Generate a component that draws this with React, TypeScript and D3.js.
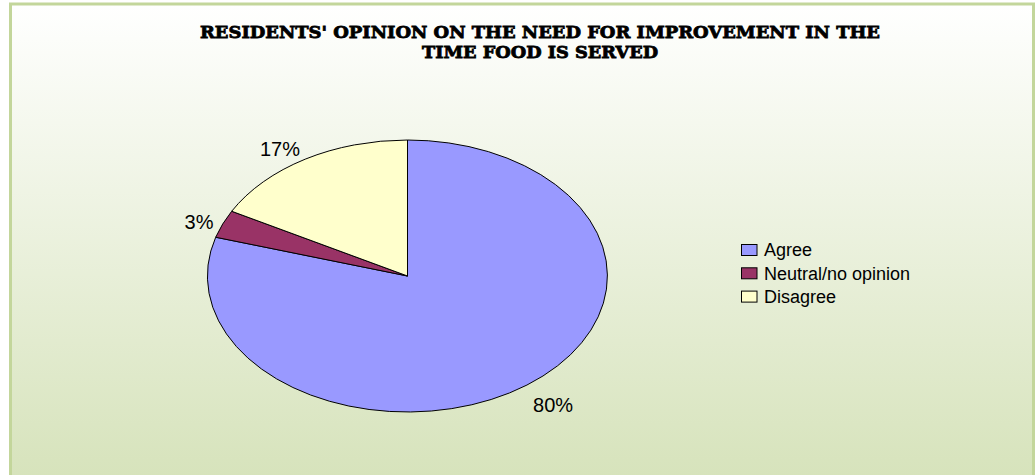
import React from "react";
import * as d3 from "d3";

const categories = ["Agree", "Neutral/no opinion", "Disagree"];
const values = [79.6, 3.3, 17.1];
const colors = ["#9999ff", "#993366", "#ffffcc"];
const titleLines = [
  "RESIDENTS' OPINION ON THE NEED FOR IMPROVEMENT IN THE",
  "TIME FOOD IS SERVED",
];
const titleWidths = [680, 236];

const W = 1035;
const H = 475;

export default function App() {
  const cx = 407.5;
  const cy = 276;
  const rx = 200;
  const ry = 136;
  const total = d3.sum(values);
  const pie = d3.pie<number>().sort(null).value((d) => d);
  const arcs = pie(values);
  const arcGen = d3.arc<d3.PieArcDatum<number>>().innerRadius(0).outerRadius(1);

  const labelFs = 20;
  const legendFs = 18;

  return (
    <svg
      width={W}
      height={H}
      style={{ position: "absolute", left: 0, top: 0 }}
      xmlns="http://www.w3.org/2000/svg"
    >
      <defs>
        <linearGradient id="bg" x1="0" y1="0" x2="0" y2="1">
          <stop offset="0" stopColor="#ffffff" />
          <stop offset="1" stopColor="#d5e2b9" />
        </linearGradient>
      </defs>
      <rect x={0} y={0} width={W} height={H} fill="#ffffff" />
      <rect
        x={10.5}
        y={4}
        width={1023}
        height={490}
        fill="url(#bg)"
        stroke="#c3d69b"
        strokeWidth={3}
      />
      {titleLines.map((t, i) => (
        <text
          key={i}
          x={540}
          y={37.5 + i * 20.5}
          textAnchor="middle"
          fontFamily="DejaVu Serif"
          fontWeight="bold"
          fontSize={17}
          fill="#000"
          stroke="#000"
          strokeWidth={0.8}
          textLength={titleWidths[i]}
          lengthAdjust="spacingAndGlyphs"
        >
          {t}
        </text>
      ))}
      <g transform={`translate(${cx},${cy}) scale(${rx},${ry})`}>
        {arcs.map((a, i) => (
          <path
            key={i}
            d={arcGen(a) || ""}
            fill={colors[i]}
            stroke="#000"
            strokeWidth={1}
            vectorEffect="non-scaling-stroke"
          />
        ))}
      </g>
      {arcs.map((a, i) => {
        const mid = (a.startAngle + a.endAngle) / 2;
        const s = Math.sin(mid);
        const c = Math.cos(mid);
        const ex = cx + rx * s;
        const ey = cy - ry * c;
        const x = ex + s * 10;
        const yc = ey - c * 18 + 5;
        const pct = Math.round((a.value / total) * 100);
        return (
          <text
            key={i}
            x={x}
            y={yc + 0.358 * labelFs}
            textAnchor={s < 0 ? "end" : "start"}
            fontFamily="'Liberation Sans', Arial, sans-serif"
            fontSize={labelFs}
            fill="#000"
          >
            {pct}%
          </text>
        );
      })}
      {categories.map((cat, i) => (
        <g key={cat} transform={`translate(741,${250 + i * 23.3})`}>
          <rect
            x={0.5}
            y={-5.5}
            width={15.5}
            height={11}
            fill={colors[i]}
            stroke="#000"
            strokeWidth={1}
          />
          <text
            x={23}
            y={0.358 * legendFs}
            fontFamily="'Liberation Sans', Arial, sans-serif"
            fontSize={legendFs}
            fill="#000"
          >
            {cat}
          </text>
        </g>
      ))}
    </svg>
  );
}
